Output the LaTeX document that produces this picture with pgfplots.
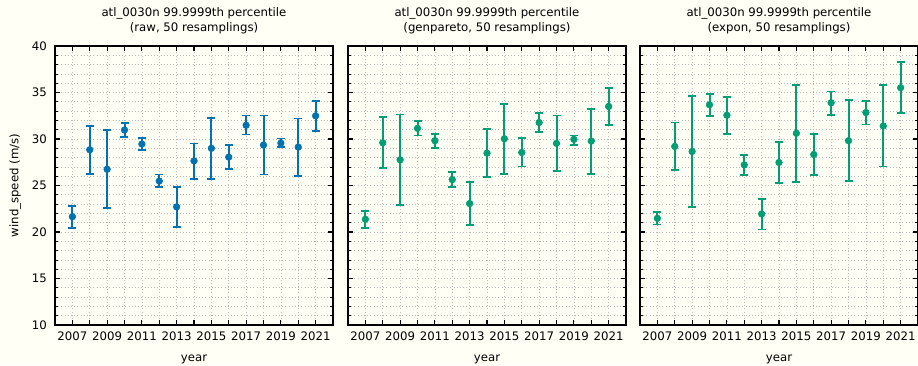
\documentclass[border=0pt]{standalone}
\usepackage{pgfplots}
\pgfplotsset{compat=1.18}
\usepackage{pgfplotstable}
\usepackage{fontspec}
\setmainfont{DejaVu Sans}
\definecolor{bg}{HTML}{FFFFF6}
\definecolor{cblue}{HTML}{0072B2}
\definecolor{cgreen}{HTML}{009E73}

\pgfplotstableread{
year y hi lo
2007 21.65 22.80 20.46
2008 28.84 31.40 26.24
2009 26.75 30.93 22.56
2010 30.97 31.70 30.25
2011 29.46 30.07 28.80
2012 25.48 26.17 24.80
2013 22.70 24.87 20.57
2014 27.65 29.53 25.73
2015 29.00 32.27 25.73
2016 28.05 29.38 26.75
2017 31.48 32.52 30.47
2018 29.35 32.52 26.17
2019 29.56 30.04 29.13
2020 29.13 32.20 26.06
2021 32.49 34.08 30.83
}\raw

\pgfplotstableread{
year y hi lo
2007 21.37 22.27 20.46
2008 29.60 32.34 26.89
2009 27.76 32.63 22.88
2010 31.15 31.91 30.39
2011 29.82 30.57 29.06
2012 25.63 26.42 24.83
2013 23.06 25.41 20.72
2014 28.48 31.08 25.88
2015 30.03 33.79 26.24
2016 28.55 30.10 27.04
2017 31.77 32.81 30.75
2018 29.53 32.52 26.57
2019 29.96 30.39 29.35
2020 29.78 33.25 26.24
2021 33.50 35.52 31.48
}\genpareto

\pgfplotstableread{
year y hi lo
2007 21.47 22.16 20.82
2008 29.20 31.77 26.64
2009 28.66 34.66 22.67
2010 33.68 34.87 32.49
2011 32.56 34.55 30.57
2012 27.22 28.26 26.13
2013 21.94 23.57 20.28
2014 27.47 29.71 25.27
2015 30.61 35.81 25.41
2016 28.33 30.53 26.13
2017 33.90 35.12 32.60
2018 29.82 34.18 25.48
2019 32.85 34.11 31.55
2020 31.40 35.81 27.04
2021 35.52 38.27 32.81
}\expon

\pgfplotsset{
  myax/.style={
    scale only axis,
    width=208.5pt, height=209.25pt,
    anchor=south west,
    xmin=2006, xmax=2022, ymin=10, ymax=40,
    xtick={2007,...,2021},
    xticklabels={2007,,2009,,2011,,2013,,2015,,2017,,2019,,2021},
    ytick={10,15,...,40},
    minor y tick num=4,
    grid=both,
    major grid style={dotted, gray!55, line width=0.5pt},
    minor grid style={dotted, gray!55, line width=0.5pt},
    axis line style={black, line width=0.9pt},
    major tick style={black, line width=0.8pt},
    minor tick style={black, line width=0.6pt},
    major tick length=3.75pt,
    minor tick length=2.2pt,
    tick align=inside,
    axis background/.style={fill=bg},
    /pgf/number format/assume math mode=true,
    tick label style={font=\fontsize{8.8}{10.5}\selectfont},
    xticklabel style={anchor=base, inner sep=0pt, yshift=-11.25pt},
    yticklabel style={anchor=east, inner sep=0pt, xshift=-6pt},
    title style={font=\fontsize{8.8}{11.25}\selectfont, align=center, at={(axis description cs:0.5,1)}, anchor=south, inner sep=0pt, yshift=2.5pt},
    xlabel={year},
    xlabel style={font=\fontsize{8.8}{10.5}\selectfont, at={(axis description cs:0.5,-0.124)}, anchor=center},
    label style={font=\fontsize{8.8}{10.5}\selectfont},
  },
  myplot/.style={
    only marks, mark=*, mark size=2.5pt,
    mark options={draw=#1, fill=#1},
    color=#1,
    error bars/.cd, y dir=both, y explicit,
    error bar style={line width=1.5pt, color=#1},
    error mark options={rotate=90, mark size=3pt, line width=1.3pt, color=#1},
  },
}

\begin{document}
\begin{tikzpicture}
\fill[bg] (0,0) rectangle (688.5pt,273.75pt);
\path[use as bounding box] (0,0) rectangle (688.5pt,273.75pt);

\begin{axis}[myax, at={(41.25pt,30pt)},
  title={atl\_0030n 99.9999th percentile\\(raw, 50 resamplings)},
  ylabel={wind\_speed (m/s)},
  ylabel style={at={(axis description cs:-0.143,0.5)}, anchor=center, rotate=0}]
\addplot+[myplot=cblue] table[x=year, y=y,
  y error plus expr=\thisrow{hi}-\thisrow{y},
  y error minus expr=\thisrow{y}-\thisrow{lo}] {\raw};
\end{axis}

\begin{axis}[myax, at={(261pt,30pt)}, yticklabels={},
  title={atl\_0030n 99.9999th percentile\\(genpareto, 50 resamplings)}]
\addplot+[myplot=cgreen] table[x=year, y=y,
  y error plus expr=\thisrow{hi}-\thisrow{y},
  y error minus expr=\thisrow{y}-\thisrow{lo}] {\genpareto};
\end{axis}

\begin{axis}[myax, at={(480pt,30pt)}, yticklabels={},
  title={atl\_0030n 99.9999th percentile\\(expon, 50 resamplings)}]
\addplot+[myplot=cgreen] table[x=year, y=y,
  y error plus expr=\thisrow{hi}-\thisrow{y},
  y error minus expr=\thisrow{y}-\thisrow{lo}] {\expon};
\end{axis}
\end{tikzpicture}
\end{document}
